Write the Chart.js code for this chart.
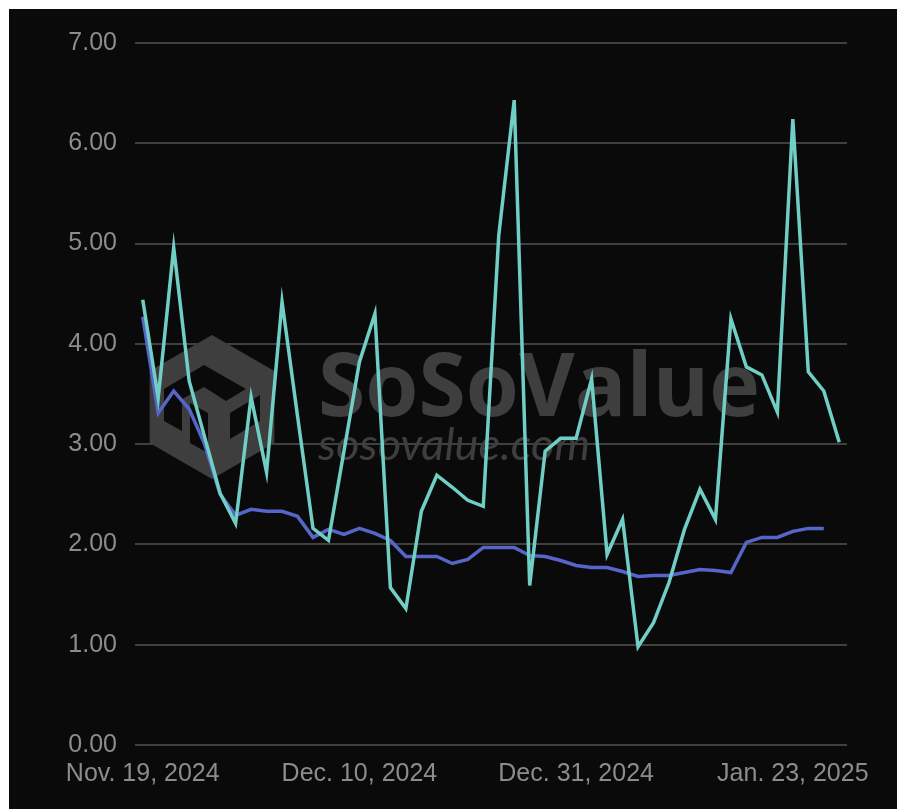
<!DOCTYPE html>
<html>
<head>
<meta charset="utf-8">
<script src="https://cdn.jsdelivr.net/npm/chart.js@4/dist/chart.umd.min.js"></script>
<style>
  html, body { margin: 0; padding: 0; background: #ffffff; }
  #wrap { position: absolute; left: 0; top: 0; width: 900px; height: 809px; }
  canvas { display: block; }
</style>
</head>
<body>
<div id="wrap"><canvas id="c" width="900" height="809"></canvas></div>
<script>
// Trading dates (category labels)
const dates = [
  "Nov. 19, 2024","Nov. 20, 2024","Nov. 21, 2024","Nov. 22, 2024","Nov. 25, 2024","Nov. 26, 2024","Nov. 27, 2024","Nov. 29, 2024",
  "Dec. 2, 2024","Dec. 3, 2024","Dec. 4, 2024","Dec. 5, 2024","Dec. 6, 2024","Dec. 9, 2024","Dec. 10, 2024",
  "Dec. 11, 2024","Dec. 12, 2024","Dec. 13, 2024","Dec. 16, 2024","Dec. 17, 2024","Dec. 18, 2024","Dec. 19, 2024","Dec. 20, 2024",
  "Dec. 23, 2024","Dec. 24, 2024","Dec. 26, 2024","Dec. 27, 2024","Dec. 30, 2024","Dec. 31, 2024",
  "Jan. 2, 2025","Jan. 3, 2025","Jan. 6, 2025","Jan. 7, 2025","Jan. 8, 2025","Jan. 10, 2025",
  "Jan. 13, 2025","Jan. 14, 2025","Jan. 15, 2025","Jan. 16, 2025","Jan. 17, 2025",
  "Jan. 21, 2025","Jan. 22, 2025","Jan. 23, 2025","Jan. 24, 2025","Jan. 27, 2025","Jan. 28, 2025"
];
// Tick labels shown on the x axis
const xTickLabels = ["Nov. 19, 2024","Dec. 10, 2024","Dec. 31, 2024","Jan. 23, 2025"];
// Y tick values
const yTicks = [0, 1, 2, 3, 4, 5, 6, 7];

// Series values
const tealSeries = [
  4.44, 3.46, 4.96, 3.63, 3.07, 2.51, 2.21, 3.47, 2.72, 4.42, 3.28, 2.16, 2.04, 2.93, 3.82,
  4.30, 1.57, 1.36, 2.33, 2.69, 2.57, 2.44, 2.38, 5.08, 6.43, 1.59, 2.93, 3.06, 3.06,
  3.65, 1.90, 2.25, 0.98, 1.22, 1.62, 2.15, 2.55, 2.25, 4.25, 3.77, 3.69, 3.32, 6.24, 3.72, 3.53, 3.02
];
const blueSeries = [
  4.27, 3.31, 3.53, 3.35, 3.00, 2.50, 2.29, 2.35, 2.33, 2.33, 2.28, 2.07, 2.15, 2.10, 2.16,
  2.11, 2.04, 1.88, 1.88, 1.88, 1.81, 1.85, 1.97, 1.97, 1.97, 1.89, 1.88, 1.84, 1.79,
  1.77, 1.77, 1.73, 1.68, 1.69, 1.69, 1.72, 1.75, 1.74, 1.72, 2.02, 2.07, 2.07, 2.13, 2.16, 2.16
];

const BG = '#0a0a0a';

const backdrop = {
  id: 'backdrop',
  beforeDraw(chart) {
    const ctx = chart.ctx;
    ctx.save();
    ctx.fillStyle = '#ffffff';
    ctx.fillRect(0, 0, chart.width, chart.height);
    ctx.fillStyle = BG;
    ctx.fillRect(9, 9, 888, 800);
    ctx.restore();
  },
  beforeDatasetsDraw(chart) {
    const ctx = chart.ctx;
    ctx.save();
    const wm = 'rgb(62,62,62)';
    const cx = 212, cy = 407, r = 72;
    ctx.fillStyle = wm;
    ctx.beginPath();
    for (let i = 0; i < 6; i++) {
      const a = Math.PI / 180 * (60 * i - 90);
      const px = cx + r * Math.cos(a), py = cy + r * Math.sin(a);
      if (i === 0) ctx.moveTo(px, py); else ctx.lineTo(px, py);
    }
    ctx.closePath();
    ctx.fill();
    ctx.fillStyle = BG;
    ctx.beginPath();
    ctx.moveTo(cx - 48, cy - 18); ctx.lineTo(cx - 8, cy - 42); ctx.lineTo(cx + 34, cy - 18);
    ctx.lineTo(cx + 14, cy - 6); ctx.lineTo(cx - 8, cy - 20); ctx.lineTo(cx - 30, cy - 8);
    ctx.lineTo(cx - 30, cy + 24); ctx.lineTo(cx - 48, cy + 14); ctx.closePath(); ctx.fill();
    ctx.beginPath();
    ctx.moveTo(cx - 22, cy - 4); ctx.lineTo(cx - 4, cy + 6); ctx.lineTo(cx - 4, cy + 46);
    ctx.lineTo(cx - 22, cy + 36); ctx.closePath(); ctx.fill();
    ctx.beginPath();
    ctx.moveTo(cx + 18, cy + 6); ctx.lineTo(cx + 48, cy - 12); ctx.lineTo(cx + 48, cy + 14);
    ctx.lineTo(cx + 18, cy + 32); ctx.closePath(); ctx.fill();
    ctx.fillStyle = wm;
    ctx.textBaseline = 'alphabetic';
    ctx.font = 'bold 88px "Open Sans", "Liberation Sans", sans-serif';
    let w = ctx.measureText('SoSoValue').width;
    ctx.save();
    ctx.translate(318, 416);
    ctx.scale(442 / w, 1);
    ctx.fillText('SoSoValue', 0, 0);
    ctx.restore();
    ctx.font = 'italic 44px "Lato", "Liberation Sans", sans-serif';
    w = ctx.measureText('sosovalue.com').width;
    ctx.save();
    ctx.translate(318, 460);
    ctx.scale(272 / w, 1);
    ctx.fillText('sosovalue.com', 0, 0);
    ctx.restore();
    ctx.restore();
  }
};

new Chart(document.getElementById('c'), {
  type: 'line',
  data: {
    labels: dates,
    datasets: [
      {
        label: 'A',
        data: tealSeries,
        borderColor: 'rgb(112,206,196)',
        borderWidth: 3.5,
        pointRadius: 0,
        tension: 0,
        fill: false
      },
      {
        label: 'B',
        data: blueSeries,
        borderColor: 'rgb(86,102,200)',
        borderWidth: 3.5,
        pointRadius: 0,
        tension: 0,
        fill: false
      }
    ]
  },
  options: {
    responsive: false,
    animation: false,
    devicePixelRatio: 1,
    layout: { padding: { left: 0, right: 53, top: 43, bottom: 0 } },
    plugins: { legend: { display: false }, tooltip: { enabled: false } },
    scales: {
      x: {
        type: 'category',
        offset: true,
        grid: { display: false, drawTicks: false },
        border: { display: false },
        afterFit(s) { s.height = 64; },
        ticks: {
          autoSkip: false,
          maxRotation: 0,
          minRotation: 0,
          padding: 14,
          color: 'rgb(140,140,140)',
          font: { family: '"Liberation Sans", Arial, sans-serif', size: 25 },
          callback(value, index) {
            const l = dates[index];
            return xTickLabels.includes(l) ? l : '';
          }
        }
      },
      y: {
        min: yTicks[0],
        max: yTicks[yTicks.length - 1],
        afterFit(s) { s.width = 135; },
        afterBuildTicks(s) { s.ticks = yTicks.map(v => ({ value: v })); },
        grid: { color: 'rgb(64,64,64)', lineWidth: 2, drawTicks: false },
        border: { display: false },
        ticks: {
          padding: 18,
          color: 'rgb(140,140,140)',
          font: { family: '"Liberation Sans", Arial, sans-serif', size: 25 },
          callback(v) { return Number(v).toFixed(2); }
        }
      }
    }
  },
  plugins: [backdrop]
});
</script>
</body>
</html>
